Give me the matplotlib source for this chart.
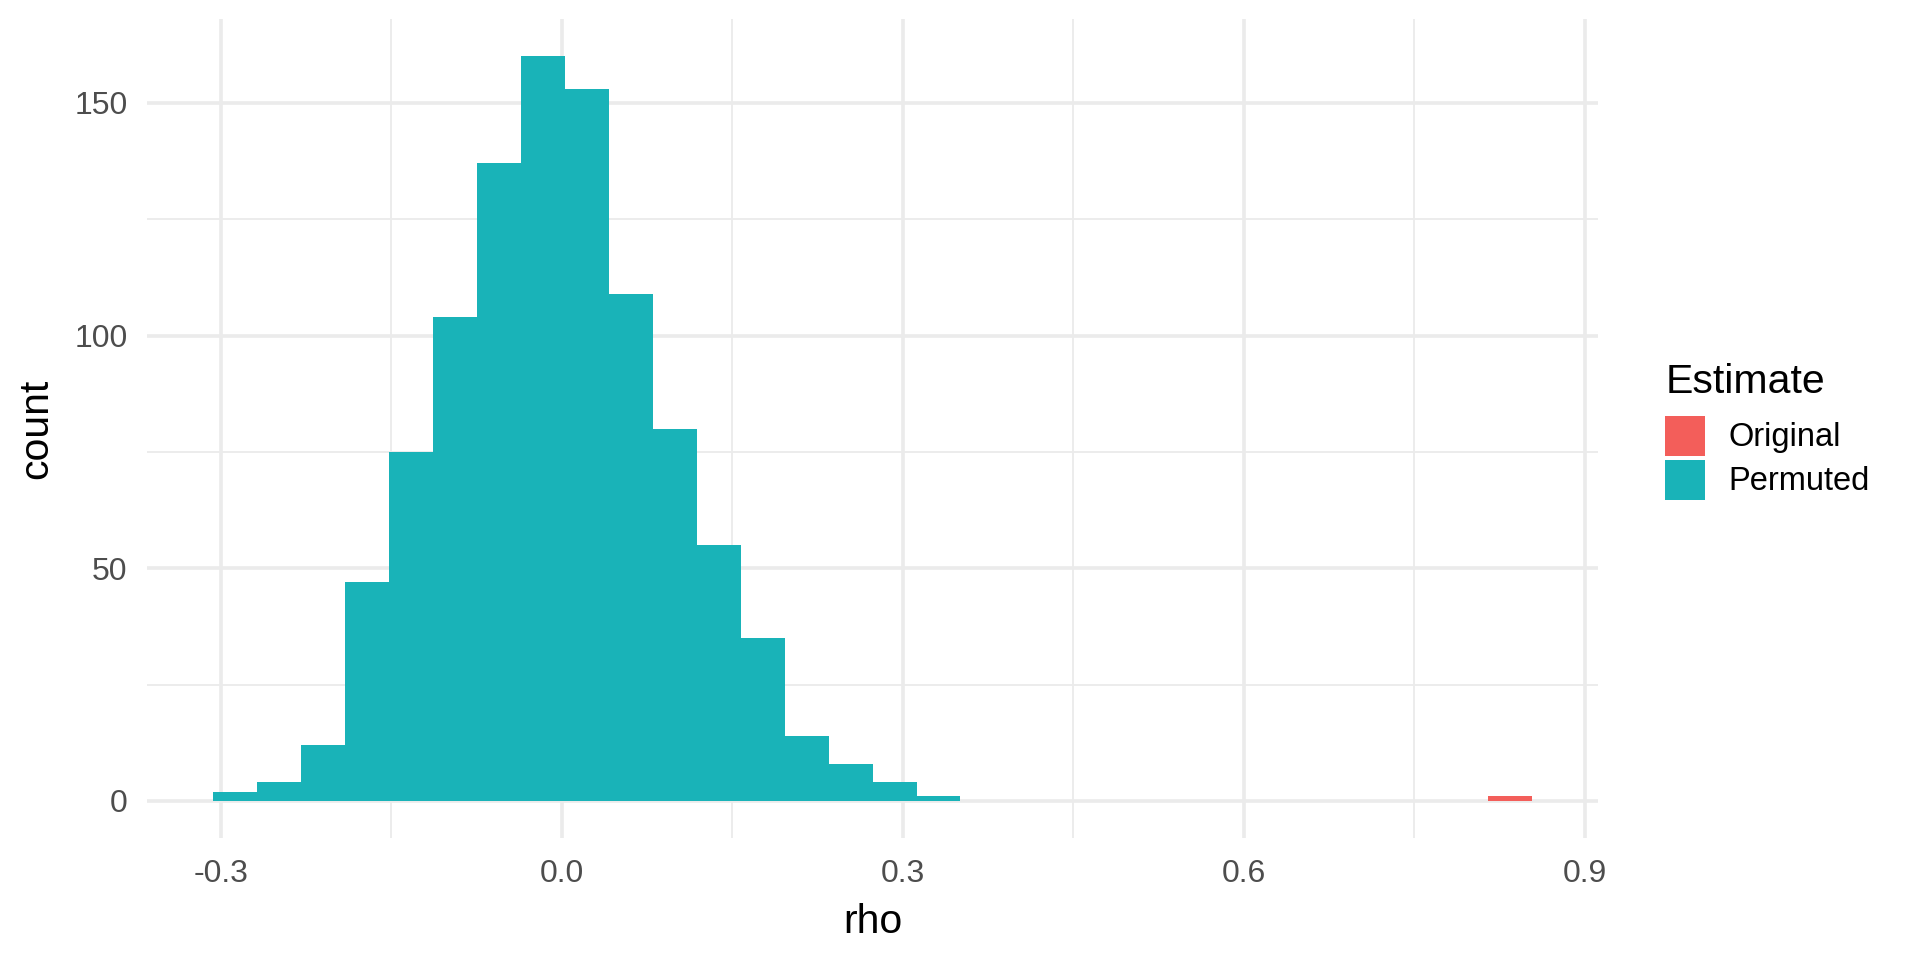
import numpy as np
import matplotlib
matplotlib.use("Agg")
import matplotlib.pyplot as plt
from matplotlib.patches import Patch

plt.rcParams['font.family'] = ['Liberation Sans', 'DejaVu Sans']

# histogram of permuted rho (30 bins), plus the original estimate
bin_start = -0.3067
bin_width = 0.03868
n_bins = 30
permuted_counts = [2, 4, 12, 47, 75, 104, 137, 160, 153, 109, 80, 55, 35, 14, 8, 4, 1,
                   0, 0, 0, 0, 0, 0, 0, 0, 0, 0, 0, 0, 0]
original_counts = [0] * 29 + [1]

col_orig = "#F35E5A"
col_perm = "#19B3B8"
grid_col = "#EBEBEB"

edges = bin_start + bin_width * np.arange(n_bins + 1)
lefts = edges[:-1]
perm = np.array(permuted_counts)
orig = np.array(original_counts)

fig = plt.figure(figsize=(19.2, 9.6), dpi=100)
ax = fig.add_axes([0.0766, 0.127, 0.7557, 0.853])

ax.bar(lefts, perm, width=bin_width, align='edge', color=col_perm, linewidth=0, zorder=3)
ax.bar(lefts, orig, width=bin_width, bottom=perm, align='edge', color=col_orig, linewidth=0, zorder=3)

lo, hi = edges[0], edges[-1]
pad = (hi - lo) * 0.05
ax.set_xlim(lo - pad, hi + pad)
ymax = max(perm + orig)
ax.set_ylim(-ymax * 0.05, ymax * 1.05)

ax.set_xticks([-0.3, 0.0, 0.3, 0.6, 0.9])
ax.set_xticklabels(["-0.3", "0.0", "0.3", "0.6", "0.9"])
ax.set_xticks([-0.15, 0.15, 0.45, 0.75], minor=True)
ax.set_yticks([0, 50, 100, 150])
ax.set_yticks([25, 75, 125], minor=True)

ax.grid(which='major', color=grid_col, linewidth=2.6, zorder=0)
ax.grid(which='minor', color=grid_col, linewidth=1.3, zorder=0)
ax.set_axisbelow(True)
for s in ax.spines.values():
    s.set_visible(False)
ax.tick_params(which='both', length=0, labelsize=23, labelcolor="#4D4D4D")
ax.tick_params(axis='x', pad=15)
ax.tick_params(axis='y', pad=14)

ax.set_xlabel("rho", fontsize=29.5, labelpad=10)
ax.set_ylabel("count", fontsize=29.5, labelpad=14)

handles = [Patch(facecolor=col_orig, edgecolor='none', label="Original"),
           Patch(facecolor=col_perm, edgecolor='none', label="Permuted")]
leg_fs = 23.5
leg = fig.legend(handles=handles, title="Estimate", loc='upper left',
                 bbox_to_anchor=(0.8588, 0.6385), frameon=False, fontsize=leg_fs,
                 title_fontsize=29.5, handlelength=1.23, handleheight=1.51,
                 handletextpad=0.72, labelspacing=0.12, borderpad=0)
leg._legend_box.align = "left"
leg._legend_box.sep = 0.12 * leg_fs + 7.5  # extra gap under the title

fig.savefig("out.png", dpi=100)
